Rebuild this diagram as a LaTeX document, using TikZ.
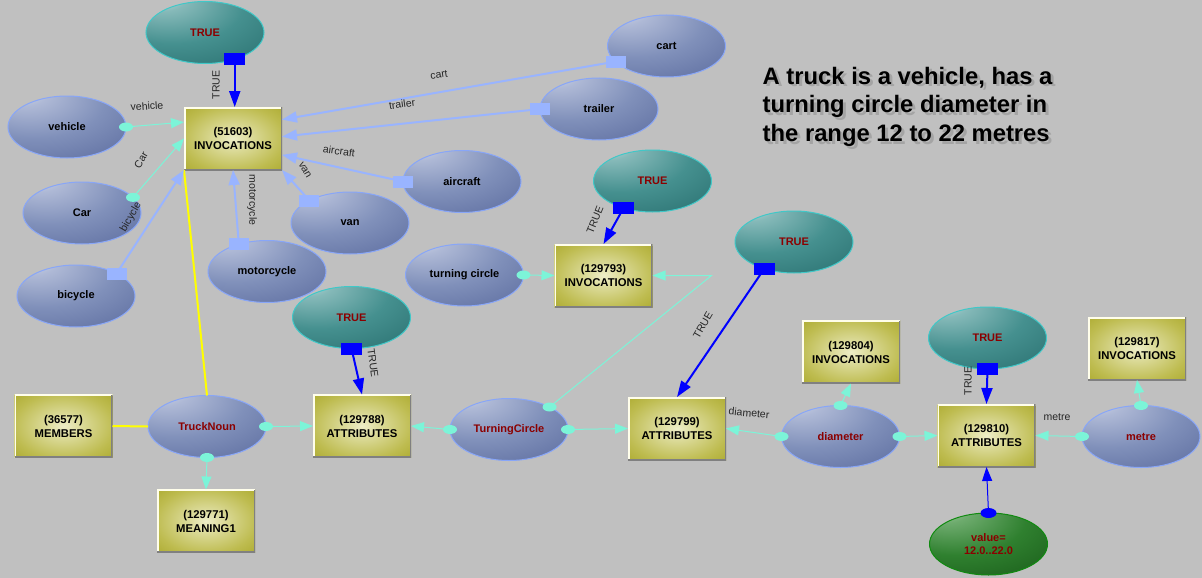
\documentclass[tikz,border=0pt]{standalone}
\usepackage{fontspec}
\setmainfont{Liberation Sans}
\usetikzlibrary{shapes.geometric,arrows.meta,calc}

\definecolor{bg}{HTML}{C0C0C0}
\definecolor{ellL}{HTML}{D4DAEC}
\definecolor{ellM}{HTML}{8090BA}
\definecolor{ellD}{HTML}{56669A}
\definecolor{ellB}{HTML}{88A6F8}
\definecolor{tealL}{HTML}{C6E2E2}
\definecolor{tealM}{HTML}{45908F}
\definecolor{tealD}{HTML}{256A6A}
\definecolor{tealB}{HTML}{40C8C8}
\definecolor{grnL}{HTML}{ACD6AC}
\definecolor{grnM}{HTML}{2F802F}
\definecolor{grnD}{HTML}{165616}
\definecolor{grnB}{HTML}{108A10}
\definecolor{oliveL}{HTML}{EEEEC8}
\definecolor{oliveM}{HTML}{BEBC50}
\definecolor{oliveD}{HTML}{9E9C16}
\definecolor{dred}{HTML}{8B0000}
\definecolor{cyanE}{HTML}{7CF4D8}
\definecolor{lblue}{HTML}{99B4FF}
\definecolor{blueE}{HTML}{0000FF}
\definecolor{yel}{HTML}{FFFF00}

\pgfdeclareradialshading{ellshade}{\pgfpoint{-20bp}{30bp}}{color(0bp)=(ellL); color(10bp)=(ellL!55!ellM); color(30bp)=(ellM); color(58bp)=(ellD); color(100bp)=(ellD)}
\pgfdeclareradialshading{tealshade}{\pgfpoint{-20bp}{30bp}}{color(0bp)=(tealL); color(10bp)=(tealL!50!tealM); color(30bp)=(tealM); color(58bp)=(tealD); color(100bp)=(tealD)}
\pgfdeclareradialshading{grnshade}{\pgfpoint{-20bp}{30bp}}{color(0bp)=(grnL); color(10bp)=(grnL!50!grnM); color(30bp)=(grnM); color(58bp)=(grnD); color(100bp)=(grnD)}
\pgfdeclareradialshading{boxshade}{\pgfpoint{0bp}{0bp}}{color(0bp)=(oliveL); color(8bp)=(oliveL!65!oliveM); color(26bp)=(oliveM); color(46bp)=(oliveD); color(100bp)=(oliveD)}

\tikzset{
  ellbase/.style={ellipse, minimum width=118pt, minimum height=62pt, inner sep=0pt, outer sep=0pt,
    line width=1pt, align=center, font=\bfseries\fontsize{11}{13.5}\selectfont},
  ell/.style={ellbase, draw=ellB, shading=ellshade},
  tell/.style={ellbase, draw=tealB, shading=tealshade, text=dred},
  gell/.style={ellbase, draw=grnB, shading=grnshade, text=dred},
  box/.style={rectangle, minimum width=98pt, minimum height=63pt, inner sep=0pt, outer sep=0pt,
    shading=boxshade, align=center, font=\bfseries\fontsize{11.3}{14}\selectfont,
    path picture={
      \draw[white!92!yellow, line width=3pt] (path picture bounding box.south west) -- (path picture bounding box.north west) -- (path picture bounding box.north east);
      \draw[black!50, line width=3pt] (path picture bounding box.north east) -- (path picture bounding box.south east) -- (path picture bounding box.south west);
    }},
  cyanedge/.style={draw=cyanE, line width=1pt, -{Triangle[length=13pt,width=10pt]}},
  lbedge/.style={draw=lblue, line width=2pt, -{Triangle[length=15pt,width=11pt]}},
  bledge/.style={draw=blueE, line width=2pt, -{Triangle[length=16pt,width=11pt]}},
  bthin/.style={draw=blueE, line width=1pt, -{Triangle[length=14pt,width=10pt]}},
  yeledge/.style={draw=yel, line width=2pt},
  cdot/.style={ellipse, fill=cyanE, minimum width=14pt, minimum height=9pt, inner sep=0pt},
  bdot/.style={ellipse, fill=blueE, minimum width=16pt, minimum height=10pt, inner sep=0pt},
  lsq/.style={rectangle, fill=lblue, minimum width=20pt, minimum height=12pt, inner sep=0pt},
  bsq/.style={rectangle, fill=blueE, minimum width=21pt, minimum height=12pt, inner sep=0pt},
  elab/.style={font=\fontsize{10.5}{12}\selectfont, text=black!85, inner sep=0pt},
  bigtxt/.style={anchor=base west, inner sep=0pt, font=\bfseries\fontsize{23.8}{28}\selectfont},
}

\begin{document}
\begin{tikzpicture}[x=1pt,y=-1pt]
\fill[bg] (0,0) rectangle (1202,578);
\useasboundingbox (0,0) rectangle (1202,578);

% ---- nodes ----
\node[tell] (true1) at (205,32.5) {TRUE};
\node[box] (inv1) at (233,138.5) {(51603)\\INVOCATIONS};
\node[ell] (vehicle) at (67,127) {vehicle};
\node[ell] (car) at (82,213) {Car};
\node[ell] (bicycle) at (76,296) {bicycle};
\node[ell] (motorcycle) at (267,271.5) {motorcycle};
\node[ell] (van) at (350,223) {van};
\node[ell] (aircraft) at (462,181.5) {aircraft};
\node[ell] (trailer) at (599,109) {trailer};
\node[ell] (cart) at (666.5,46) {cart};
\node[tell] (true2) at (652.5,181) {TRUE};
\node[ell] (turncirc) at (464.5,275) {turning circle};
\node[box] (inv2) at (603.5,275.5) {(129793)\\INVOCATIONS};
\node[tell] (true3) at (351.5,317.5) {TRUE};
\node[box] (attr1) at (362,426) {(129788)\\ATTRIBUTES};
\node[ell, text=dred] (truck) at (207,426.5) {TruckNoun};
\node[box] (members) at (63.5,426) {(36577)\\MEMBERS};
\node[box] (meaning) at (206,521) {(129771)\\MEANING1};
\node[ell, text=dred] (tcirc) at (509,429.5) {TurningCircle};
\node[box] (attr2) at (677,428.5) {(129799)\\ATTRIBUTES};
\node[tell] (true4) at (794,242) {TRUE};
\node[box] (inv3) at (851,352) {(129804)\\INVOCATIONS};
\node[ell, text=dred] (diam) at (840.5,436.5) {diameter};
\node[tell] (true5) at (987.5,338) {TRUE};
\node[box] (attr3) at (986.5,435.5) {(129810)\\ATTRIBUTES};
\node[box] (inv4) at (1137,348.5) {(129817)\\INVOCATIONS};
\node[ell, text=dred] (metre) at (1141,436.5) {metre};
\node[gell] (value) at (988.5,544) {value=\\12.0..22.0};

% ---- connectors ----
\draw[yeledge] (inv1.south west) -- (truck.north);
\draw[yeledge] (members.east) -- (truck.west);

\draw[lbedge] (cart.197) -- ($(inv1.north east)!0.2!(inv1.south east)$);
\draw[lbedge] (trailer.west) -- ($(inv1.north east)!0.47!(inv1.south east)$);
\draw[lbedge] (aircraft.west) -- ($(inv1.north east)!0.76!(inv1.south east)$);
\draw[lbedge] (van.151) -- (inv1.south east);
\draw[lbedge] (motorcycle.136) -- (inv1.south);
\draw[lbedge] (bicycle.29) -- (inv1.south west);
\draw[cyanedge] (vehicle.east) -- ($(inv1.north west)!0.24!(inv1.south west)$);
\draw[cyanedge] (car.17) -- (inv1.west);
\draw[bledge] (true1.-42) -- (true1.-42 |- inv1.north);

\draw[cyanedge] (turncirc.east) -- (inv2.west);
\draw[bledge] (true2.-137) -- (inv2.north);
\draw[cyanedge] (tcirc.29) -- ($(inv2.east)+(59,0)$) -- (inv2.east);

\draw[cyanedge] (truck.east) -- (attr1.west);
\draw[cyanedge] (truck.south) -- (meaning.north);
\draw[bledge] (true3.south) -- (attr1.north);
\draw[cyanedge] (tcirc.west) -- (attr1.east);
\draw[cyanedge] (tcirc.east) -- (attr2.west);

\draw[bledge] (true4.-138) -- (attr2.north);
\draw[cyanedge] (diam.west) -- (attr2.east);
\draw[cyanedge] (diam.east) -- (attr3.west);
\draw[cyanedge] (diam.north) -- (inv3.south);
\draw[bledge] (true5.south) -- (attr3.north);
\draw[cyanedge] (metre.west) -- (attr3.east);
\draw[cyanedge] (metre.north) -- (inv4.south);
\draw[bthin] (value.north) -- (attr3.south);

% ---- source markers ----
\node[lsq] (m1) at (cart.197) {};
\node[lsq] (m2) at (trailer.west) {};
\node[lsq] (m3) at (aircraft.west) {};
\node[lsq] (m4) at (van.151) {};
\node[lsq] (m5) at (motorcycle.136) {};
\node[lsq] (m6) at (bicycle.29) {};
\node[cdot] (m7) at (vehicle.east) {};
\node[cdot] (m8) at (car.17) {};
\node[bsq] (m9) at (true1.-42) {};
\node[cdot] (m10) at (turncirc.east) {};
\node[bsq] (m11) at (true2.-137) {};
\node[cdot] (m12) at (tcirc.29) {};
\node[cdot] (m13) at (truck.east) {};
\node[cdot] (m14) at (truck.south) {};
\node[bsq] (m15) at (true3.south) {};
\node[cdot] (m16) at (tcirc.west) {};
\node[cdot] (m17) at (tcirc.east) {};
\node[bsq] (m18) at (true4.-138) {};
\node[cdot] (m19) at (diam.west) {};
\node[cdot] (m20) at (diam.east) {};
\node[cdot] (m21) at (diam.north) {};
\node[bsq] (m22) at (true5.south) {};
\node[cdot] (m23) at (metre.west) {};
\node[cdot] (m24) at (metre.north) {};
\node[bdot] (m25) at (value.north) {};

% ---- connector labels ----
\node[elab, rotate=90] (l1) at (216,85) {TRUE};
\node[elab, rotate=4] (l2) at (147,106) {vehicle};
\node[elab, rotate=60] (l3) at (141,160) {Car};
\node[elab, rotate=60] (l4) at (131,217) {bicycle};
\node[elab, rotate=-90] (l5) at (252,200) {motorcycle};
\node[elab, rotate=-60] (l6) at (305,170) {van};
\node[elab, rotate=-8] (l7) at (339,151) {aircraft};
\node[elab, rotate=8] (l8) at (402,104) {trailer};
\node[elab, rotate=8] (l9) at (439,75) {cart};
\node[elab, rotate=68] (l10) at (595,220) {TRUE};
\node[elab, rotate=-82] (l11) at (373,363) {TRUE};
\node[elab, rotate=60] (l12) at (703,325) {TRUE};
\node[elab, rotate=-5] (l13) at (749,413) {diameter};
\node[elab, rotate=90] (l14) at (968,381) {TRUE};
\node[elab] (l15) at (1057,417) {metre};

% ---- title text (with its drop shadow) ----
\begin{scope}[black!40, opacity=0.7]
\node[bigtxt] (s1) at (765.5,87) {A truck is a vehicle, has a};
\node[bigtxt] (s2) at (765.5,115.2) {turning circle diameter in};
\node[bigtxt] (s3) at (765.5,144.4) {the range 12 to 22 metres};
\end{scope}
\node[bigtxt] (t1) at (762.5,84.3) {A truck is a vehicle, has a};
\node[bigtxt] (t2) at (762.5,112.5) {turning circle diameter in};
\node[bigtxt] (t3) at (762.5,141.7) {the range 12 to 22 metres};
\end{tikzpicture}
\end{document}
